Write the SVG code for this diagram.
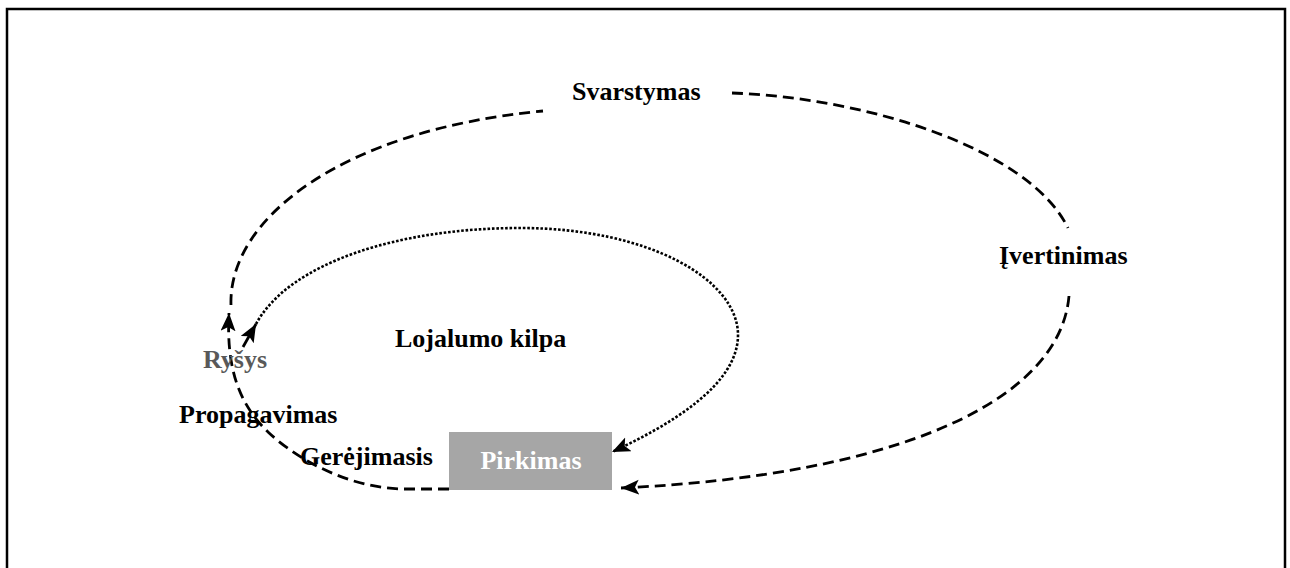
<svg xmlns="http://www.w3.org/2000/svg" width="1290" height="568" viewBox="0 0 1290 568">
  <style>
    .lbl { font-family: "Liberation Serif", "Times New Roman", serif; font-weight: bold; font-size: 26px; fill: #000; }
    .soft { fill: #595959; }
    .inv { fill: #ffffff; }
    .dash { fill: none; stroke: #000; stroke-width: 2.8; stroke-dasharray: 11 6; }
    .dot { fill: none; stroke: #000; stroke-width: 2.6; stroke-dasharray: 2.6 1.8; }
    .solid { fill: none; stroke: #000; stroke-width: 2.8; }
  </style>
  <defs>
    <marker id="arrow" markerUnits="userSpaceOnUse" markerWidth="20" markerHeight="16" refX="18" refY="7.5" orient="auto">
      <path d="M0,0 L18,7.5 L0,15 L4,7.5 z" fill="#000"/>
    </marker>
  </defs>

  <rect width="1290" height="568" fill="#ffffff"/>
  <!-- outer frame, open at the bottom edge -->
  <rect x="7" y="9" width="1278" height="600" fill="none" stroke="#000" stroke-width="2.5"/>

  <g id="connectors">
    <!-- outer cycle -->
    <path class="dash" d="M449,489 L400,489 C350,487 300,462 268,432 C240,405 226,370 229,313" marker-end="url(#arrow)"/>
    <path class="dash" d="M231,305 C228,220 340,130 543,111"/>
    <path class="dash" d="M732,93 C870,98 1030,150 1068,228"/>
    <path class="dash" d="M1069,296 C1060,400 900,475 621,488" marker-end="url(#arrow)"/>
    <!-- loyalty loop -->
    <path class="solid" d="M243,347 L256,324" marker-end="url(#arrow)"/>
    <path class="dot" d="M256,324 C290,262 400,228 520,228 C650,228 738,280 738,335 C738,385 670,425 612,452" marker-end="url(#arrow)"/>
  </g>

  <g id="svarstymas">
    <text class="lbl" x="572" y="100">Svarstymas</text>
  </g>
  <g id="ivertinimas">
    <text class="lbl" x="999" y="264">Įvertinimas</text>
  </g>
  <g id="lojalumo-kilpa">
    <text class="lbl" x="395" y="347">Lojalumo kilpa</text>
  </g>
  <g id="rysys">
    <text class="lbl soft" x="203" y="368">Ryšys</text>
  </g>
  <g id="propagavimas">
    <text class="lbl" x="179" y="423">Propagavimas</text>
  </g>
  <g id="gerejimasis">
    <text class="lbl" x="300" y="465">Gerėjimasis</text>
  </g>
  <g id="pirkimas">
    <rect x="449" y="432" width="163" height="58" fill="#a6a6a6"/>
    <text class="lbl inv" x="531" y="469" text-anchor="middle">Pirkimas</text>
  </g>
</svg>
